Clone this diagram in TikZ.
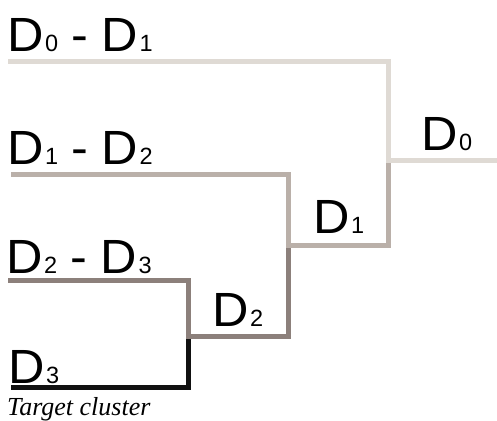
\documentclass[tikz,border=0pt]{standalone}
\usepackage{fontspec}
\setmainfont{Liberation Sans}
\newfontfamily\dfont[FakeStretch=1.05]{Liberation Sans}
\newfontfamily\tfont{Liberation Serif}
\definecolor{cA}{HTML}{DFDAD4}
\definecolor{cB}{HTML}{BAB0A9}
\definecolor{cC}{HTML}{8C807B}
\definecolor{cD}{HTML}{111111}
\newcommand{\dsub}[1]{{\dfont D}\kern1.5pt{\fontsize{23.5}{23.5}\selectfont #1}}
\begin{document}
\begin{tikzpicture}[x=1pt,y=-1pt,
  lbl/.style={anchor=base west,inner sep=0pt,font=\fontsize{48}{48}\selectfont},
  edge/.style={line width=5pt,line join=miter,line cap=butt}]
\useasboundingbox[fill=white] (0,0) rectangle (497,420);
% coordinates
\coordinate (a0) at (8,61);
\coordinate (a1) at (388,61);
\coordinate (m0) at (388,160);
\coordinate (r0) at (497,160);
\coordinate (b0) at (11,174);
\coordinate (b1) at (288,174);
\coordinate (m1) at (288,245);
\coordinate (m1r) at (388,245);
\coordinate (c0) at (8,280);
\coordinate (c1) at (188,280);
\coordinate (m2) at (188,336);
\coordinate (m2r) at (288,336);
\coordinate (d0) at (11,387);
\coordinate (d1) at (188,387);
% edges
\draw[edge,cD] (d0) -- (d1) -- (m2);
\draw[edge,cC] (c0) -- (c1) -- (m2) -- (m2r) -- (m1);
\draw[edge,cB] (b0) -- (b1) -- (m1) -- (m1r) -- (m0);
\draw[edge,cA] (a0) -- (a1) -- (m0) -- (r0);
% labels
\node[lbl] (l01) at (7,52) {\dsub{0}\ {\dfont -}\ \dsub{1}};
\node[lbl] (l12) at (7,164) {\dsub{1}\ {\dfont -}\ \dsub{2}};
\node[lbl] (l23) at (6,273) {\dsub{2}\ {\dfont -}\ \dsub{3}};
\node[lbl] (l3) at (8,383) {\dsub{3}};
\node[lbl] (n0) at (421,150) {\dsub{0}};
\node[lbl] (n1) at (313,233) {\dsub{1}};
\node[lbl] (n2) at (212,326) {\dsub{2}};
\node[anchor=base west,inner sep=0pt,font=\tfont\itshape\fontsize{26}{26}\selectfont] (tc) at (7,415) {Target cluster};
\end{tikzpicture}
\end{document}
